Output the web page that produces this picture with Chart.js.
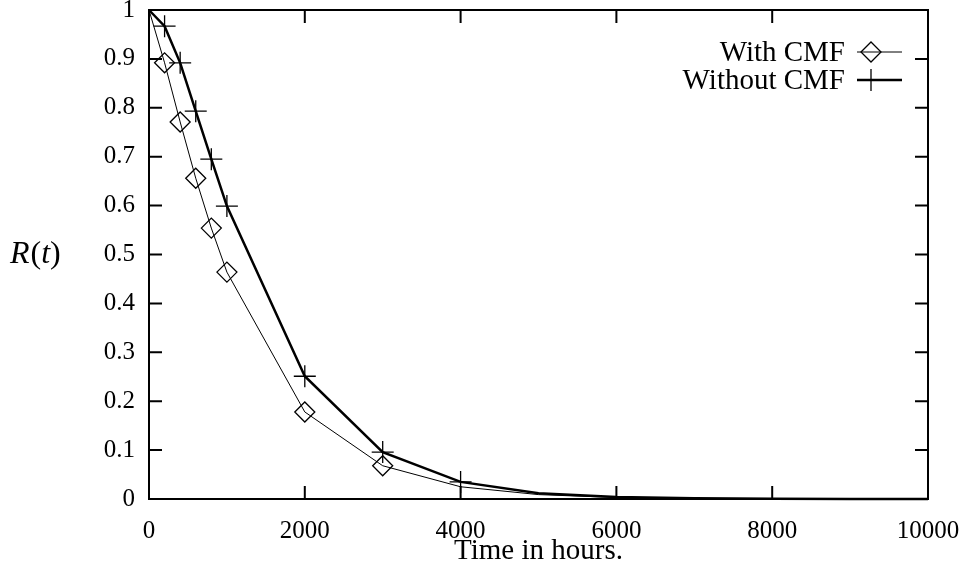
<!DOCTYPE html>
<html>
<head>
<meta charset="utf-8">
<script src="https://cdn.jsdelivr.net/npm/chart.js@4.4.1/dist/chart.umd.min.js"></script>
<style>
  body { margin: 0; background: #fff; }
  canvas { display: block; }
</style>
</head>
<body>
<canvas id="myChart" width="964" height="571"></canvas>
<script>
// datos
const horas = [0, 200, 400, 600, 800, 1000, 2000, 3000, 4000, 5000, 6000, 7000, 8000, 9000, 10000];
const conCMF = [1, 0.892, 0.771, 0.656, 0.554, 0.464, 0.178, 0.068, 0.025, 0.009, 0.003, 0.001, 0.0004, 0.0001, 0.00005];
const sinCMF = [1, 0.967, 0.892, 0.793, 0.695, 0.599, 0.251, 0.096, 0.035, 0.012, 0.004, 0.0015, 0.0005, 0.0002, 0.0001];
const marcaCon = [false, true, true, true, true, true, true, true, false, false, false, false, false, false, false];
const marcaSin = [false, true, true, true, true, true, true, true, true, false, false, false, false, false, false];
const xTickLabels = ['0', '2000', '4000', '6000', '8000', '10000'];
const yTickLabels = ['0', '0.1', '0.2', '0.3', '0.4', '0.5', '0.6', '0.7', '0.8', '0.9', '1'];

const serif = '"Liberation Serif", "Times New Roman", serif';

const puntos = (ys) => horas.map((h, i) => ({ x: h, y: ys[i] }));

// marco, ticks hacia dentro, leyenda y etiqueta R(t)
const marcoPlugin = {
  id: 'marco',
  afterDraw(chart) {
    const { ctx, chartArea: a, scales } = chart;
    const largo = 13;
    ctx.save();
    ctx.strokeStyle = '#000';
    ctx.lineWidth = 2;
    ctx.strokeRect(a.left, a.top, a.right - a.left, a.bottom - a.top);
    ctx.beginPath();
    scales.x.ticks.forEach(t => {
      const px = scales.x.getPixelForValue(t.value);
      ctx.moveTo(px, a.bottom); ctx.lineTo(px, a.bottom - largo);
      ctx.moveTo(px, a.top); ctx.lineTo(px, a.top + largo);
    });
    scales.y.ticks.forEach(t => {
      const py = scales.y.getPixelForValue(t.value);
      ctx.moveTo(a.left, py); ctx.lineTo(a.left + largo, py);
      ctx.moveTo(a.right, py); ctx.lineTo(a.right - largo, py);
    });
    ctx.stroke();

    // leyenda
    ctx.fillStyle = '#000';
    ctx.font = '29px ' + serif;
    ctx.textAlign = 'right';
    ctx.textBaseline = 'middle';
    const ds = chart.data.datasets;
    const filas = [52, 80];
    ds.forEach((d, i) => {
      const y = filas[i];
      ctx.fillText(d.label, 845, y + 1);
      ctx.lineWidth = d.borderWidth;
      ctx.beginPath();
      ctx.moveTo(857, y); ctx.lineTo(902, y);
      ctx.stroke();
      ctx.lineWidth = d.pointBorderWidth;
      ctx.beginPath();
      const r = d.pointRadius.find(v => v > 0);
      const cx = 871;
      if (d.pointStyle === 'rectRot') {
        ctx.moveTo(cx - r, y); ctx.lineTo(cx, y - r); ctx.lineTo(cx + r, y); ctx.lineTo(cx, y + r); ctx.closePath();
      } else {
        ctx.moveTo(cx - r, y); ctx.lineTo(cx + r, y);
        ctx.moveTo(cx, y - r); ctx.lineTo(cx, y + r);
      }
      ctx.stroke();
    });

    // R(t)
    ctx.textAlign = 'left';
    let x = 10;
    const yR = 255;
    const partes = [['R', true], ['(', false], ['t', true], [')', false]];
    partes.forEach(([s, it]) => {
      ctx.font = (it ? 'italic ' : '') + '32px ' + serif;
      ctx.fillText(s, x, yR);
      x += ctx.measureText(s).width + (it && s === 'R' ? 1 : 0);
    });
    ctx.restore();
  }
};

const ctx = document.getElementById('myChart').getContext('2d');
new Chart(ctx, {
  type: 'line',
  data: {
    datasets: [
      {
        label: 'With CMF',
        data: puntos(conCMF),
        borderColor: '#000',
        borderWidth: 1,
        pointStyle: 'rectRot',
        pointRadius: marcaCon.map(m => m ? 10 : 0),
        pointBorderWidth: 1.3,
        pointBorderColor: '#000',
        pointBackgroundColor: 'rgba(0,0,0,0)',
        tension: 0
      },
      {
        label: 'Without CMF',
        data: puntos(sinCMF),
        borderColor: '#000',
        borderWidth: 2.5,
        pointStyle: 'cross',
        pointRadius: marcaSin.map(m => m ? 11 : 0),
        pointBorderWidth: 1.3,
        pointBorderColor: '#000',
        pointBackgroundColor: 'rgba(0,0,0,0)',
        tension: 0
      }
    ]
  },
  options: {
    responsive: false,
    animation: false,
    clip: false,
    layout: { padding: { top: 10, right: 36, left: 0, bottom: 0 } },
    plugins: { legend: { display: false }, tooltip: { enabled: false } },
    scales: {
      x: {
        type: 'linear',
        min: 0, max: 10000,
        grid: { display: false, drawTicks: false },
        border: { display: false },
        ticks: {
          stepSize: 2000,
          padding: 17,
          color: '#000',
          maxRotation: 0,
          font: { family: serif, size: 25 },
          callback: (v, i) => xTickLabels[i]
        },
        title: {
          display: true,
          text: 'Time in hours.',
          color: '#000',
          font: { family: serif, size: 29 },
          padding: { top: 0, bottom: 2 }
        },
        afterFit(s) { s.height = 72; s.paddingLeft = 0; s.paddingRight = 0; }
      },
      y: {
        min: 0, max: 1,
        grid: { display: false, drawTicks: false },
        border: { display: false },
        ticks: {
          stepSize: 0.1,
          padding: 14,
          color: '#000',
          font: { family: serif, size: 25 },
          callback: (v, i) => yTickLabels[i]
        },
        afterFit(s) { s.width = 149; s.paddingTop = 0; s.paddingBottom = 0; }
      }
    }
  },
  plugins: [marcoPlugin]
});
</script>
</body>
</html>
